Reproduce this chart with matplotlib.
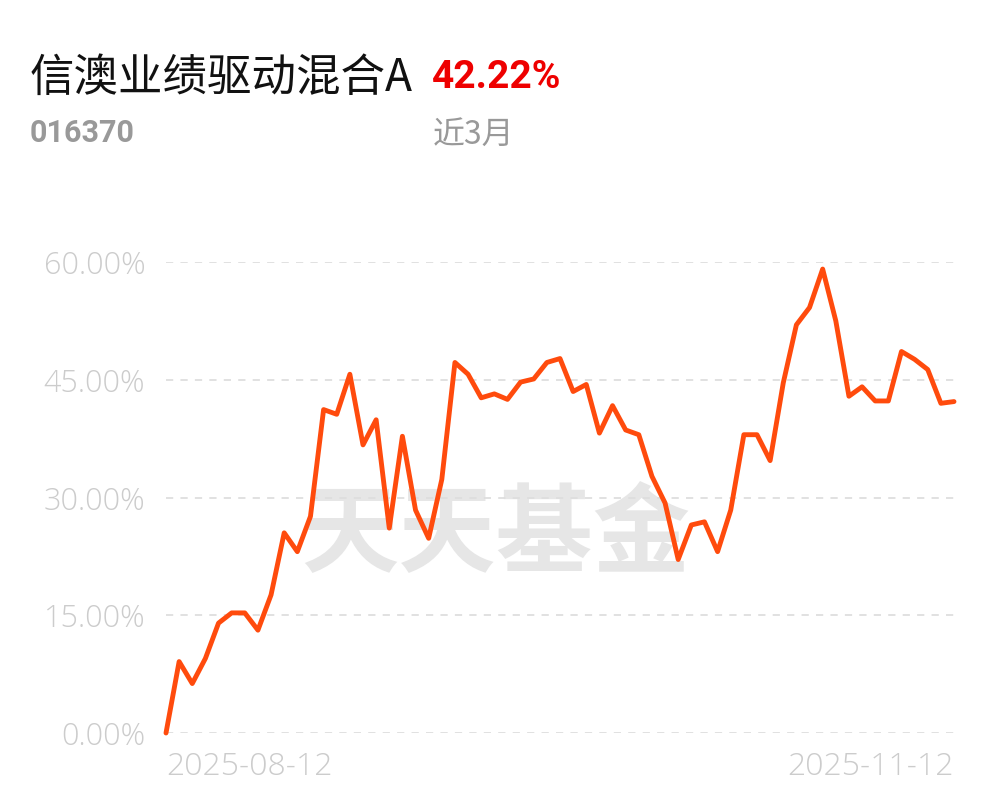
import matplotlib
matplotlib.use("Agg")
import matplotlib.pyplot as plt

# 近3月收益率走势 (%)
returns = [
    0.0, 9.1, 6.3, 9.5, 14.0, 15.3, 15.3, 13.1, 17.6, 25.5,
    23.1, 27.6, 41.2, 40.6, 45.7, 36.7, 39.9, 26.1, 37.8, 28.4,
    24.8, 32.3, 47.2, 45.7, 42.7, 43.2, 42.5, 44.7, 45.1, 47.2,
    47.7, 43.5, 44.4, 38.2, 41.7, 38.6, 38.0, 32.7, 29.3, 22.1,
    26.5, 26.9, 23.1, 28.4, 38.0, 38.0, 34.7, 44.6, 52.0, 54.2,
    59.1, 52.5, 42.9, 44.1, 42.3, 42.3, 48.6, 47.6, 46.3, 42.0,
    42.22,
]
y_ticks = [0, 15, 30, 45, 60]
y_labels = ["0.00%", "15.00%", "30.00%", "45.00%", "60.00%"]
x_labels = ["2025-08-12", "2025-11-12"]

fund_name = "信澳业绩驱动混合A"
fund_code = "016370"
period_return = "42.22%"
period_name = "近3月"

W, H = 997, 802
fig = plt.figure(figsize=(W / 100, H / 100), dpi=100)

def fx(px):
    return px / W

def fy(py):
    return 1 - py / H

ax = fig.add_axes([fx(166), fy(733), fx(954) - fx(166), fy(262) - fy(733)])
x = list(range(len(returns)))
ax.plot(x, returns, color="#ff4b0d", lw=3.5, solid_joinstyle="round",
        solid_capstyle="round", clip_on=False, zorder=3)
ax.set_xlim(0, len(returns) - 1)
ax.set_ylim(0, 60)

for v in y_ticks:
    ax.axhline(v, color="#dedede", lw=1.3, ls=(0, (4, 4)), zorder=1)

for s in ax.spines.values():
    s.set_visible(False)

ax.set_yticks(y_ticks)
ax.set_yticklabels(y_labels, fontsize=22, color="#cccccc", family="Open Sans",
                   weight="light")
ax.tick_params(axis="y", length=0, pad=15)
ax.set_xticks([0, len(returns) - 1])
ax.set_xticklabels(x_labels, fontsize=23, color="#cccccc", family="Open Sans",
                   weight="light")
ax.tick_params(axis="x", length=0, pad=13)
xt = ax.get_xticklabels()
xt[0].set_ha("left")
xt[1].set_ha("right")

# watermark, behind the line
ax.text(fx(496), fy(537), "天天基金", fontsize=70, color="#e6e6e6", weight="bold",
        family=["Noto Sans CJK SC"], ha="center", va="center", zorder=0.5,
        transform=fig.transFigure)

fig.text(fx(30), fy(78), fund_name, fontsize=32, color="#111111",
         family=["Noto Sans CJK SC"], ha="left", va="center")
fig.text(fx(432), fy(78), period_return, fontsize=28, color="#ee0000",
         weight="bold", family=["Roboto"], ha="left", va="center")
fig.text(fx(30), fy(133), fund_code, fontsize=22, color="#999999",
         weight="bold", family=["Roboto"], ha="left", va="center")
fig.text(fx(433), fy(135), period_name, fontsize=23, color="#999999",
         family=["Noto Sans CJK SC"], ha="left", va="center")

fig.savefig("out.png", dpi=100)
